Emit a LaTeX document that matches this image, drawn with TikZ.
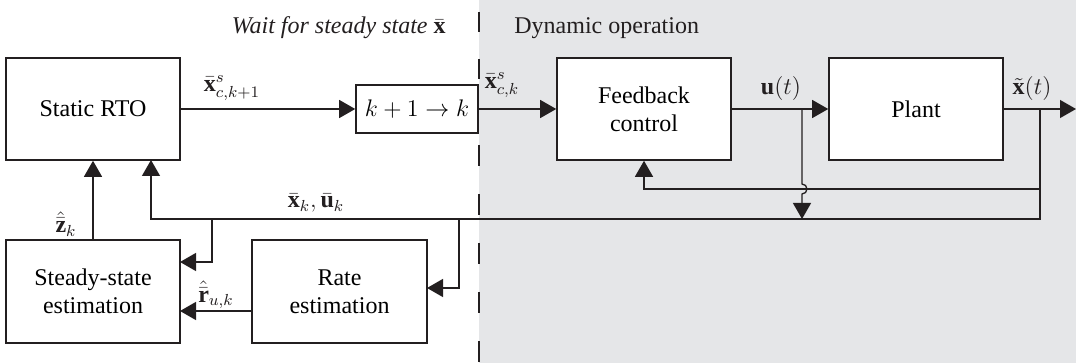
\documentclass[tikz,border=0pt]{standalone}
\usepackage{fontspec}
\setmainfont{Liberation Serif}
\usetikzlibrary{arrows.meta}
\definecolor{bggray}{RGB}{229,230,232}
\definecolor{ink}{RGB}{35,31,32}
\begin{document}
\begin{tikzpicture}[x=0.5pt,y=-0.5pt,
  blk/.style={draw=ink,line width=0.8pt,fill=white,inner sep=0pt,
    font=\fontsize{12}{14}\selectfont,align=center},
  conn/.style={draw=ink,line width=0.65pt},
  arr/.style={conn,-{Triangle[length=8pt,width=9pt]}},
  lbl/.style={font=\fontsize{12}{14}\selectfont,inner sep=0pt,text=ink},
  sep/.style={draw=ink,line width=1pt}]
\useasboundingbox (0,0) rectangle (1076,363);
\fill[bggray] (479,0) rectangle (1076,363);
% separator
\draw[sep,dash pattern=on 10pt off 13.5pt] (479,12) -- (479,85);
\draw[sep,dash pattern=on 10.5pt off 14pt] (479,145) -- (479,363);
% blocks
\node[blk,minimum width=87pt,minimum height=51pt] (rto) at (93,109) {Static RTO};
\node[blk,minimum width=61pt,minimum height=24pt] (kk) at (417,109) {$k+1\rightarrow k$};
\node[blk,minimum width=87pt,minimum height=51pt] (fb) at (644,109) {Feedback\\control};
\node[blk,minimum width=87pt,minimum height=51pt] (plant) at (916,109) {Plant};
\node[blk,minimum width=87pt,minimum height=51.5pt] (sse) at (93,291.5) {Steady-state\\estimation};
\node[blk,minimum width=87.5pt,minimum height=51.5pt] (rate) at (339.5,291.5) {Rate\\estimation};
% coordinates
\coordinate (xout) at (1076,109);
\coordinate (xb) at (1040,109);
\coordinate (xc) at (1040,219);
\coordinate (xf) at (1040,189);
\coordinate (ff) at (644,189);
\coordinate (j1) at (151,219);
\coordinate (rtoin) at (151,160);
\coordinate (ub) at (802,109);
\coordinate (uh) at (802,184);
\coordinate (ue) at (802,219);
\coordinate (b1) at (212,219);
\coordinate (b1d) at (212,262);
\coordinate (ssein) at (180,262);
\coordinate (b2) at (459,219);
\coordinate (b2d) at (459,288);
\coordinate (ratein) at (427,288);
\coordinate (rout) at (252,311);
\coordinate (ssein2) at (180,311);
% connectors
\draw[arr] (rto.east) -- (kk.west);
\draw[arr] (kk.east) -- (fb.west);
\draw[arr] (fb.east) -- (plant.west);
\draw[arr] (plant.east) -- (xout);
\draw[arr] (xb) -- (xc) -- (j1) -- (rtoin);
\draw[arr] (xf) -- (ff) -- (fb.south);
\draw[arr] (ub) -- (uh) arc[start angle=-90,end angle=90,radius=5] -- (ue);
\draw[arr] (b1) -- (b1d) -- (ssein);
\draw[arr] (b2) -- (b2d) -- (ratein);
\draw[arr] (rout) -- (ssein2);
\draw[arr] (sse.north) -- (rto.south);
% labels
\node[lbl] (l1) at (232,88) {$\bar{\mathbf{x}}^s_{c,k+1}$};
\node[lbl] (l2) at (502,85) {$\bar{\mathbf{x}}^s_{c,k}$};
\node[lbl] (l3) at (781,89) {$\mathbf{u}(t)$};
\node[lbl] (l4) at (1032,89) {$\tilde{\mathbf{x}}(t)$};
\node[lbl] (l5) at (316,203) {$\bar{\mathbf{x}}_k,\bar{\mathbf{u}}_k$};
\node[lbl] (l6) at (66,224) {$\hat{\bar{\mathbf{z}}}_k$};
\node[lbl] (l7) at (216,295) {$\hat{\bar{\mathbf{r}}}_{u,k}$};
\node[lbl,anchor=base east] (t1) at (446,34) {\textit{Wait for steady state} $\bar{\mathbf{x}}$};
\node[lbl,anchor=base west] (t2) at (514,34) {Dynamic operation};
\end{tikzpicture}
\end{document}
